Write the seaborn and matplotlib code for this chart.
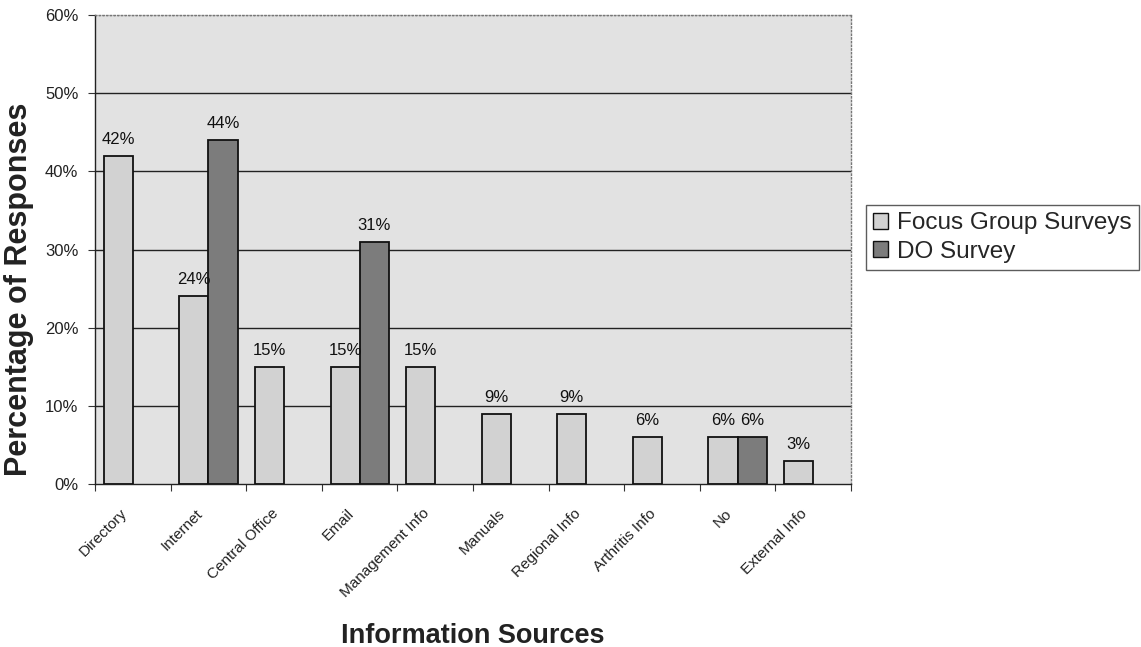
import matplotlib
matplotlib.use("Agg")
import matplotlib.pyplot as plt
from matplotlib.ticker import FixedLocator, PercentFormatter
from matplotlib.transforms import ScaledTranslation
from matplotlib.patches import Patch
import seaborn as sns
import pandas as pd
import numpy as np

# Information sources and survey responses (percent)
categories = ["Directory", "Internet", "Central Office", "Email", "Management Info",
              "Manuals", "Regional Info", "Arthritis Info", "No", "External Info"]
focus_group = [42, 24, 15, 15, 15, 9, 9, 6, 6, 3]
do_survey = [None, 44, None, 31, None, None, None, None, 6, None]
series_names = ["Focus Group Surveys", "DO Survey"]

rows = []
for cat, fg, do in zip(categories, focus_group, do_survey):
    if fg is not None:
        rows.append({"source": cat, "series": series_names[0], "pct": fg})
    if do is not None:
        rows.append({"source": cat, "series": series_names[1], "pct": do})
df = pd.DataFrame(rows)

sns.set_theme(style="white")
plt.rcParams["font.family"] = ["Liberation Sans", "DejaVu Sans"]

fig = plt.figure(figsize=(11.41, 6.47), dpi=100)
ax = fig.add_axes([0.0833, 1 - 484 / 647, 0.6625, (484 - 15) / 647])
ax.set_facecolor("#e2e2e2")

palette = {series_names[0]: "#d2d2d2", series_names[1]: "#7c7c7c"}
sns.barplot(data=df, x="source", y="pct", hue="series", order=categories,
            hue_order=series_names, palette=palette, width=0.77, saturation=1,
            edgecolor="#111111", linewidth=1.3, ax=ax, legend=False, zorder=3)

for cont in ax.containers:
    ax.bar_label(cont, fmt="{:.0f}%", padding=6.5, fontsize=12, color="#111111")

ax.set_ylim(0, 60)
ax.set_xlim(-0.5, len(categories) - 0.5)
ax.yaxis.set_major_locator(FixedLocator([0, 10, 20, 30, 40, 50, 60]))
ax.yaxis.set_major_formatter(PercentFormatter(decimals=0))
for y in [10, 20, 30, 40, 50]:
    ax.axhline(y, color="#222222", lw=1.0, zorder=1)
ax.axhline(60, color="#555555", lw=1.0, ls=":", zorder=1)

ax.tick_params(axis="y", which="major", direction="out", length=5, width=0.8,
               color="#333333", labelsize=12, labelcolor="#222222", pad=7, left=True)
ax.tick_params(axis="x", which="major", length=0, labelsize=11,
               labelcolor="#222222", pad=16)
ax.xaxis.set_minor_locator(FixedLocator(np.arange(-0.5, len(categories), 1.0)))
ax.tick_params(axis="x", which="minor", direction="out", length=5, width=0.8,
               color="#333333", bottom=True)
shift = ScaledTranslation(-13 / 100, 0, fig.dpi_scale_trans)
for lbl in ax.get_xticklabels():
    lbl.set_rotation(45)
    lbl.set_ha("right")
    lbl.set_rotation_mode("anchor")
    lbl.set_transform(lbl.get_transform() + shift)

for side in ["left", "bottom"]:
    ax.spines[side].set_color("#222222")
    ax.spines[side].set_linewidth(1.0)
for side in ["top", "right"]:
    ax.spines[side].set_color("#777777")
    ax.spines[side].set_linestyle(":")
    ax.spines[side].set_linewidth(1.0)

ax.set_xlabel("Information Sources", fontsize=19.5, fontweight="bold",
              color="#222222", va="top")
ax.xaxis.set_label_coords(0.5, -0.296)
ax.set_ylabel("Percentage of Responses", fontsize=22, fontweight="bold",
              color="#222222")
ax.yaxis.set_label_coords(-0.081, 0.415)

handles = [Patch(facecolor=palette[s], edgecolor="#111111", linewidth=1.0)
           for s in series_names]
leg = fig.legend(handles, series_names, loc="upper left",
                 bbox_to_anchor=(866 / 1141, 1 - 205 / 647), fontsize=17.5,
                 frameon=True, fancybox=False, edgecolor="#333333",
                 handlelength=0.62, handleheight=0.62, handletextpad=0.37,
                 borderpad=0.3, labelspacing=0.27, borderaxespad=0)
leg.get_frame().set_linewidth(1.0)

fig.savefig("out.png", dpi=100, facecolor="white")
